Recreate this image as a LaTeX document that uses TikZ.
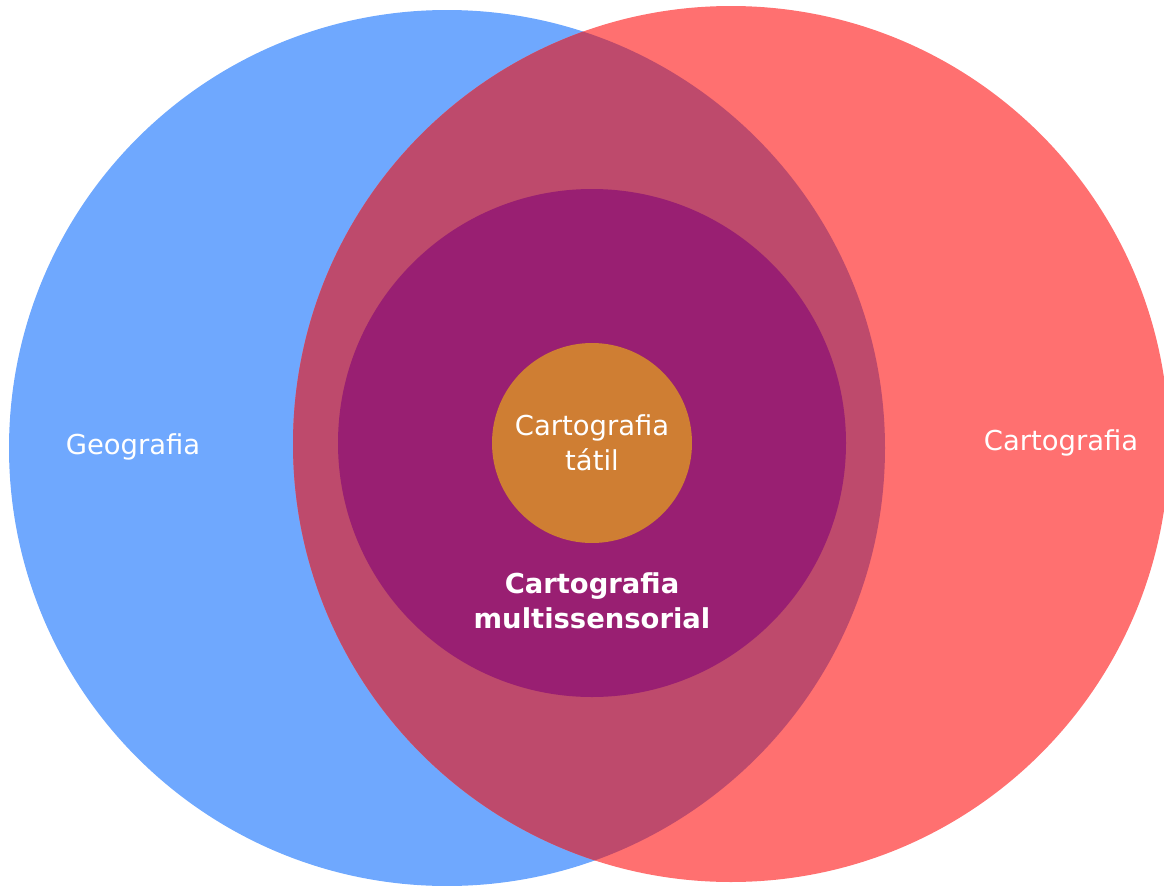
\documentclass[tikz,border=0pt]{standalone}
\usepackage{fontspec}
\setmainfont{DejaVu Sans}
\usepackage{tikz}
\usetikzlibrary{positioning}

\definecolor{geoblue}{HTML}{6FA8FE}
\definecolor{cartred}{HTML}{FF7070}
\definecolor{overlap}{HTML}{BE4A6C}
\definecolor{multi}{HTML}{991F72}
\definecolor{tatil}{HTML}{CF7E33}

\begin{document}
\begin{tikzpicture}[
  x=0.02cm, y=-0.02cm,
  lbl/.style={text=white, align=center, font=\fontsize{15.6}{19.9}\selectfont},
  lblb/.style={lbl, font=\fontsize{15.6}{19.9}\selectfont\bfseries}
]
\useasboundingbox (0,0) rectangle (1164,886);
\clip (0,0) rectangle (1164,886);

% ---------- Sets ----------
\coordinate (geoc) at (447,448);
\coordinate (cartc) at (731,444);
\coordinate (mid) at (592,443);

\fill[geoblue] (geoc) circle[radius=438];
\fill[cartred] (cartc) circle[radius=438];
\begin{scope}
\clip (geoc) circle[radius=438];
\fill[overlap] (cartc) circle[radius=438];
\end{scope}

% ---------- Nested subsets ----------
\fill[multi] (mid) circle[radius=254];
\fill[tatil] (mid) circle[radius=100];

% ---------- Labels ----------
\node[lbl] (geo) at (133,447) {Geografia};
\node[lbl] (cart) at (1061,443) {Cartografia};
\node[lbl] (tat) at (mid) {Cartografia\\tátil};
\node[lblb] (mult) at (592,601) {Cartografia\\multissensorial};

\end{tikzpicture}
\end{document}
